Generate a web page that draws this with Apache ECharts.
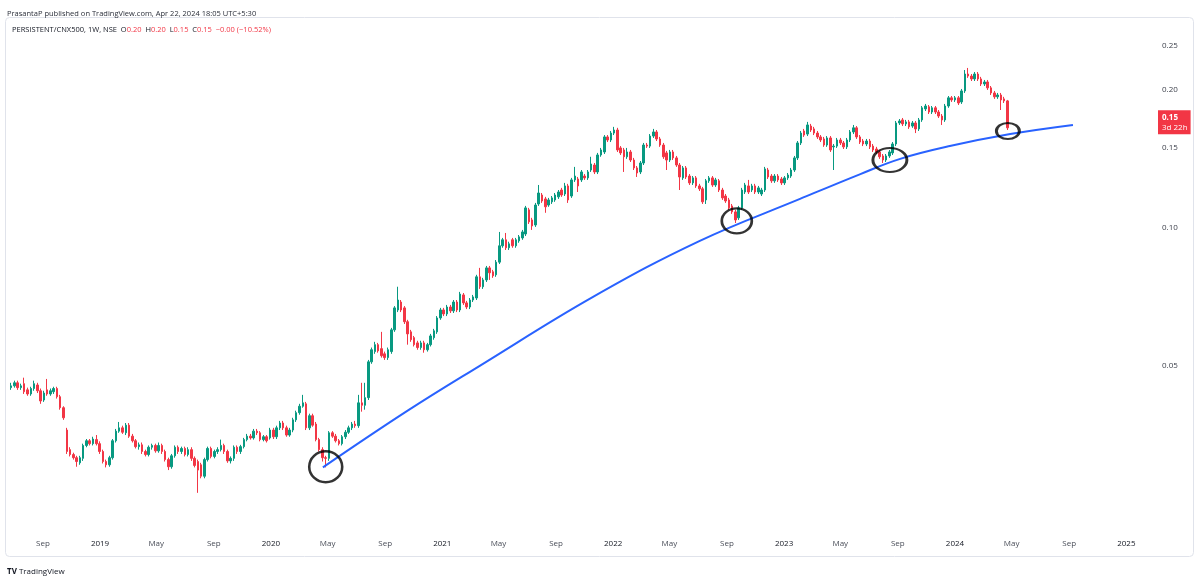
<!DOCTYPE html>
<html>
<head>
<meta charset="utf-8">
<title>PERSISTENT/CNX500 1W</title>
<script src="https://cdn.jsdelivr.net/npm/echarts@6.0.0/dist/echarts.min.js"></script>
<style>
  html, body { margin: 0; padding: 0; background: #fff; }
  #chart { width: 1200px; height: 577px; }
</style>
</head>
<body>
<div id="chart"></div>
<script>
// weekly candles, first week starts 2018-06-25, one row per week: [open, close, low, high]
const firstWeek = '2018-06-25';
const weekly = [
  // 2018
  [0.0448,0.0452,0.0443,0.0459],[0.0452,0.0459,0.0448,0.0464],[0.0459,0.0448,0.0443,0.0464],[0.0448,0.0452,0.0443,0.0457],
  [0.0457,0.0439,0.0434,0.0471],[0.0443,0.0434,0.0430,0.0448],[0.0434,0.0446,0.0430,0.0450],[0.0446,0.0457,0.0441,0.0464],
  [0.0454,0.0441,0.0436,0.0459],[0.0441,0.0419,0.0413,0.0446],[0.0421,0.0436,0.0417,0.0441],[0.0443,0.0434,0.0430,0.0468],
  [0.0434,0.0441,0.0430,0.0446],[0.0439,0.0446,0.0434,0.0450],[0.0446,0.0428,0.0424,0.0450],[0.0428,0.0405,0.0401,0.0432],
  [0.0405,0.0385,0.0381,0.0408],[0.0362,0.0325,0.0321,0.0366],[0.0328,0.0320,0.0317,0.0332],[0.0320,0.0315,0.0312,0.0323],
  [0.0315,0.0309,0.0301,0.0318],[0.0307,0.0315,0.0304,0.0318],[0.0314,0.0335,0.0310,0.0338],[0.0335,0.0343,0.0332,0.0346],
  [0.0343,0.0338,0.0335,0.0346],[0.0338,0.0346,0.0335,0.0350],[0.0345,0.0338,0.0335,0.0353],
  // 2019
  [0.0338,0.0325,0.0321,0.0342],[0.0325,0.0309,0.0306,0.0328],[0.0309,0.0304,0.0300,0.0312],[0.0304,0.0315,0.0301,0.0318],
  [0.0315,0.0343,0.0312,0.0346],[0.0343,0.0360,0.0340,0.0364],[0.0360,0.0366,0.0357,0.0377],[0.0366,0.0358,0.0355,0.0370],
  [0.0357,0.0371,0.0353,0.0375],[0.0371,0.0351,0.0348,0.0375],[0.0351,0.0343,0.0340,0.0355],[0.0343,0.0333,0.0330,0.0346],
  [0.0333,0.0336,0.0328,0.0340],[0.0336,0.0325,0.0321,0.0340],[0.0325,0.0320,0.0317,0.0328],[0.0320,0.0332,0.0317,0.0335],
  [0.0332,0.0335,0.0328,0.0338],[0.0335,0.0326,0.0323,0.0338],[0.0326,0.0335,0.0323,0.0340],[0.0335,0.0325,0.0321,0.0338],
  [0.0325,0.0312,0.0309,0.0328],[0.0312,0.0301,0.0296,0.0315],[0.0301,0.0318,0.0298,0.0321],[0.0318,0.0332,0.0315,0.0335],
  [0.0332,0.0325,0.0321,0.0335],[0.0325,0.0330,0.0321,0.0333],[0.0330,0.0320,0.0317,0.0333],[0.0320,0.0328,0.0317,0.0332],
  [0.0328,0.0314,0.0310,0.0332],[0.0314,0.0303,0.0300,0.0317],[0.0309,0.0296,0.0264,0.0312],[0.0304,0.0287,0.0284,0.0307],
  [0.0287,0.0312,0.0284,0.0315],[0.0312,0.0330,0.0309,0.0333],[0.0330,0.0317,0.0314,0.0333],[0.0317,0.0325,0.0314,0.0328],
  [0.0325,0.0328,0.0321,0.0332],[0.0328,0.0335,0.0325,0.0345],[0.0335,0.0325,0.0321,0.0338],[0.0325,0.0310,0.0307,0.0328],
  [0.0310,0.0314,0.0306,0.0317],[0.0314,0.0332,0.0310,0.0335],[0.0332,0.0325,0.0321,0.0335],[0.0325,0.0333,0.0321,0.0336],
  [0.0333,0.0345,0.0330,0.0348],[0.0345,0.0351,0.0342,0.0355],[0.0351,0.0348,0.0345,0.0355],[0.0348,0.0360,0.0345,0.0364],
  [0.0360,0.0357,0.0353,0.0364],[0.0357,0.0345,0.0342,0.0360],[0.0345,0.0350,0.0342,0.0353],[0.0350,0.0343,0.0340,0.0353],
  [0.0348,0.0362,0.0345,0.0366],
  // 2020
  [0.0362,0.0350,0.0346,0.0366],[0.0350,0.0366,0.0346,0.0370],[0.0366,0.0375,0.0362,0.0379],[0.0375,0.0366,0.0362,0.0379],
  [0.0366,0.0353,0.0350,0.0370],[0.0353,0.0362,0.0350,0.0366],[0.0362,0.0381,0.0358,0.0385],[0.0381,0.0395,0.0377,0.0399],
  [0.0395,0.0408,0.0391,0.0413],[0.0408,0.0415,0.0405,0.0432],[0.0413,0.0366,0.0362,0.0417],[0.0366,0.0389,0.0362,0.0393],
  [0.0389,0.0371,0.0368,0.0393],[0.0373,0.0345,0.0342,0.0377],[0.0345,0.0328,0.0325,0.0348],[0.0328,0.0315,0.0309,0.0332],
  [0.0315,0.0314,0.0300,0.0318],[0.0314,0.0357,0.0310,0.0360],[0.0357,0.0351,0.0348,0.0360],[0.0351,0.0343,0.0340,0.0355],
  [0.0343,0.0338,0.0335,0.0346],[0.0338,0.0350,0.0335,0.0353],[0.0350,0.0358,0.0346,0.0362],[0.0358,0.0366,0.0355,0.0370],
  [0.0366,0.0373,0.0362,0.0377],[0.0373,0.0370,0.0366,0.0379],[0.0370,0.0415,0.0366,0.0432],[0.0415,0.0410,0.0397,0.0459],
  [0.0410,0.0426,0.0401,0.0459],[0.0426,0.0510,0.0421,0.0515],[0.0510,0.0542,0.0505,0.0548],[0.0537,0.0556,0.0531,0.0564],
  [0.0556,0.0539,0.0534,0.0561],[0.0545,0.0526,0.0521,0.0593],[0.0531,0.0521,0.0515,0.0537],[0.0521,0.0542,0.0515,0.0548],
  [0.0537,0.0599,0.0531,0.0605],[0.0599,0.0669,0.0593,0.0675],[0.0662,0.0696,0.0655,0.0744],[0.0689,0.0662,0.0655,0.0696],
  [0.0669,0.0624,0.0617,0.0675],[0.0624,0.0587,0.0556,0.0630],[0.0593,0.0570,0.0564,0.0599],[0.0576,0.0556,0.0551,0.0581],
  [0.0561,0.0548,0.0542,0.0567],[0.0548,0.0561,0.0542,0.0567],[0.0561,0.0542,0.0534,0.0567],[0.0542,0.0556,0.0537,0.0561],
  [0.0556,0.0581,0.0551,0.0587],[0.0576,0.0596,0.0570,0.0602],[0.0593,0.0636,0.0587,0.0642],[0.0636,0.0662,0.0630,0.0669],
  // 2021
  [0.0662,0.0649,0.0642,0.0669],[0.0649,0.0672,0.0642,0.0679],[0.0672,0.0659,0.0652,0.0679],[0.0659,0.0689,0.0652,0.0696],
  [0.0689,0.0662,0.0655,0.0696],[0.0662,0.0717,0.0655,0.0725],[0.0714,0.0686,0.0679,0.0721],[0.0686,0.0672,0.0665,0.0693],
  [0.0672,0.0696,0.0665,0.0703],[0.0696,0.0707,0.0689,0.0714],[0.0703,0.0782,0.0696,0.0790],[0.0782,0.0744,0.0736,0.0818],
  [0.0744,0.0770,0.0736,0.0778],[0.0770,0.0818,0.0762,0.0826],[0.0818,0.0798,0.0770,0.0826],[0.0802,0.0786,0.0778,0.0810],
  [0.0790,0.0842,0.0782,0.0851],[0.0842,0.0914,0.0834,0.0980],[0.0914,0.0942,0.0905,0.0951],[0.0942,0.0905,0.0895,0.0975],
  [0.0905,0.0923,0.0895,0.0933],[0.0942,0.0914,0.0905,0.0951],[0.0914,0.0942,0.0905,0.0951],[0.0937,0.0956,0.0928,0.0965],
  [0.0951,0.0980,0.0942,0.0990],[0.0970,0.1106,0.0960,0.1117],[0.1095,0.1031,0.1020,0.1106],[0.1041,0.1010,0.0990,0.1052],
  [0.1015,0.1122,0.1005,0.1134],[0.1128,0.1192,0.1117,0.1241],[0.1180,0.1145,0.1134,0.1192],[0.1157,0.1112,0.1079,0.1169],
  [0.1122,0.1151,0.1112,0.1163],[0.1140,0.1163,0.1128,0.1174],[0.1151,0.1180,0.1140,0.1192],[0.1169,0.1198,0.1157,0.1210],
  [0.1210,0.1180,0.1169,0.1223],[0.1186,0.1235,0.1174,0.1254],[0.1235,0.1151,0.1134,0.1248],[0.1174,0.1273,0.1163,0.1286],
  [0.1273,0.1298,0.1260,0.1359],[0.1279,0.1235,0.1198,0.1292],[0.1273,0.1325,0.1260,0.1338],[0.1298,0.1286,0.1273,0.1311],
  [0.1286,0.1325,0.1273,0.1338],[0.1338,0.1379,0.1325,0.1430],[0.1372,0.1325,0.1311,0.1386],[0.1325,0.1443,0.1311,0.1458],
  [0.1443,0.1480,0.1430,0.1495],[0.1465,0.1580,0.1450,0.1595],[0.1580,0.1556,0.1540,0.1595],[0.1556,0.1611,0.1540,0.1628],
  // 2022
  [0.1611,0.1636,0.1595,0.1662],[0.1636,0.1480,0.1465,0.1654],[0.1495,0.1458,0.1443,0.1509],[0.1480,0.1430,0.1325,0.1495],
  [0.1430,0.1465,0.1415,0.1495],[0.1465,0.1407,0.1393,0.1480],[0.1407,0.1352,0.1338,0.1422],[0.1352,0.1318,0.1292,0.1365],
  [0.1325,0.1386,0.1311,0.1400],[0.1386,0.1517,0.1372,0.1533],[0.1517,0.1509,0.1495,0.1533],[0.1509,0.1587,0.1495,0.1603],
  [0.1587,0.1620,0.1572,0.1645],[0.1620,0.1564,0.1548,0.1636],[0.1564,0.1517,0.1503,0.1580],[0.1517,0.1430,0.1415,0.1533],
  [0.1458,0.1407,0.1338,0.1473],[0.1407,0.1465,0.1393,0.1480],[0.1465,0.1422,0.1407,0.1480],[0.1422,0.1372,0.1359,0.1436],
  [0.1372,0.1292,0.1210,0.1386],[0.1286,0.1352,0.1273,0.1365],[0.1352,0.1292,0.1279,0.1365],[0.1298,0.1254,0.1241,0.1311],
  [0.1254,0.1286,0.1241,0.1298],[0.1286,0.1235,0.1223,0.1298],[0.1235,0.1217,0.1204,0.1248],[0.1217,0.1140,0.1128,0.1229],
  [0.1151,0.1267,0.1128,0.1279],[0.1267,0.1286,0.1254,0.1298],[0.1286,0.1241,0.1229,0.1298],[0.1241,0.1273,0.1229,0.1286],
  [0.1267,0.1210,0.1198,0.1279],[0.1210,0.1163,0.1151,0.1223],[0.1174,0.1145,0.1134,0.1186],[0.1151,0.1106,0.1095,0.1163],
  [0.1117,0.1084,0.1073,0.1128],[0.1084,0.1041,0.1025,0.1095],[0.1052,0.1106,0.1041,0.1117],[0.1106,0.1210,0.1095,0.1223],
  [0.1198,0.1241,0.1186,0.1254],[0.1235,0.1198,0.1186,0.1273],[0.1210,0.1235,0.1198,0.1248],[0.1235,0.1198,0.1186,0.1248],
  [0.1198,0.1223,0.1186,0.1235],[0.1186,0.1210,0.1174,0.1223],[0.1210,0.1345,0.1198,0.1359],[0.1338,0.1292,0.1279,0.1352],
  [0.1298,0.1267,0.1254,0.1311],[0.1267,0.1298,0.1254,0.1311],[0.1298,0.1273,0.1260,0.1311],[0.1279,0.1254,0.1241,0.1292],
  // 2023
  [0.1254,0.1286,0.1241,0.1298],[0.1286,0.1305,0.1273,0.1318],[0.1298,0.1338,0.1286,0.1352],[0.1338,0.1422,0.1325,0.1436],
  [0.1422,0.1533,0.1407,0.1548],[0.1533,0.1611,0.1517,0.1628],[0.1628,0.1595,0.1580,0.1645],[0.1603,0.1678,0.1587,0.1704],
  [0.1669,0.1636,0.1620,0.1687],[0.1645,0.1611,0.1595,0.1662],[0.1611,0.1580,0.1564,0.1628],[0.1580,0.1556,0.1540,0.1595],
  [0.1564,0.1517,0.1503,0.1580],[0.1517,0.1572,0.1503,0.1587],[0.1572,0.1480,0.1465,0.1587],[0.1503,0.1509,0.1338,0.1525],
  [0.1509,0.1556,0.1495,0.1572],[0.1556,0.1533,0.1517,0.1572],[0.1533,0.1503,0.1487,0.1548],[0.1503,0.1556,0.1487,0.1572],
  [0.1556,0.1620,0.1540,0.1636],[0.1620,0.1654,0.1603,0.1678],[0.1654,0.1580,0.1564,0.1669],[0.1580,0.1540,0.1525,0.1595],
  [0.1548,0.1525,0.1509,0.1564],[0.1525,0.1548,0.1509,0.1564],[0.1548,0.1503,0.1487,0.1564],[0.1509,0.1480,0.1465,0.1525],
  [0.1487,0.1465,0.1450,0.1503],[0.1465,0.1430,0.1415,0.1480],[0.1436,0.1407,0.1386,0.1450],[0.1407,0.1436,0.1393,0.1450],
  [0.1436,0.1465,0.1422,0.1480],[0.1458,0.1525,0.1443,0.1540],[0.1525,0.1695,0.1509,0.1712],[0.1695,0.1712,0.1678,0.1729],
  [0.1721,0.1687,0.1669,0.1738],[0.1687,0.1704,0.1669,0.1721],[0.1704,0.1662,0.1645,0.1721],[0.1669,0.1695,0.1654,0.1712],
  [0.1695,0.1645,0.1611,0.1712],[0.1645,0.1721,0.1628,0.1738],[0.1721,0.1829,0.1704,0.1846],[0.1819,0.1846,0.1800,0.1865],
  [0.1838,0.1791,0.1773,0.1855],[0.1791,0.1829,0.1773,0.1846],[0.1829,0.1791,0.1773,0.1846],[0.1791,0.1755,0.1738,0.1809],
  [0.1755,0.1721,0.1678,0.1773],[0.1721,0.1846,0.1704,0.1865],[0.1846,0.1923,0.1829,0.1941],[0.1923,0.1903,0.1884,0.1941],
  // 2024
  [0.1903,0.1923,0.1884,0.1941],[0.1923,0.1874,0.1855,0.1941],[0.1884,0.1991,0.1865,0.2011],[0.1991,0.2168,0.1971,0.2212],
  [0.2168,0.2146,0.2126,0.2235],[0.2146,0.2115,0.2093,0.2168],[0.2115,0.2168,0.2093,0.2190],[0.2168,0.2115,0.2093,0.2190],
  [0.2115,0.2062,0.2041,0.2137],[0.2062,0.2083,0.2041,0.2104],[0.2083,0.2022,0.2001,0.2104],[0.2022,0.1971,0.1951,0.2041],
  [0.1971,0.1933,0.1913,0.1991],[0.1933,0.1951,0.1913,0.1971],[0.1951,0.1903,0.1809,0.1971],[0.1913,0.1894,0.1874,0.1933],
  [0.1894,0.1654,0.1636,0.1903]
];

// hand drawn trend curve
const curveDates = ['2020-04-21','2020-10-19','2021-03-22','2021-11-19','2022-07-05','2023-02-04','2023-06-13','2023-09-06','2023-12-21','2024-04-28','2024-09-09'];
const curveValues = [0.0300,0.0399,0.0500,0.0707,0.0937,0.1157,0.1311,0.1415,0.1509,0.1603,0.1678];

// hand drawn rings
const ringDates = ['2020-04-27','2022-09-22','2023-08-15','2024-04-23'];
const ringValues = [0.0301,0.1036,0.1407,0.1628];
const ringSizes = [[33, 31], [30, 25], [34, 24], [23, 16]];

// axis labels
const timeTicks = ['2018-09-01','2019-01-01','2019-05-01','2019-09-01','2020-01-01','2020-05-01','2020-09-01',
  '2021-01-01','2021-05-01','2021-09-01','2022-01-01','2022-05-01','2022-09-01','2023-01-01','2023-05-01',
  '2023-09-01','2024-01-01','2024-05-01','2024-09-01','2025-01-01'];
const priceTicks = [0.05, 0.10, 0.15, 0.20, 0.25];
const lastPrice = 0.1654;
const monthNames = ['Jan','Feb','Mar','Apr','May','Jun','Jul','Aug','Sep','Oct','Nov','Dec'];

const up = '#089981';
const down = '#f23645';
const font = 'Open Sans';

// 'YYYY-MM-DD' -> local midnight ms, optional week offset
function toMs(s, weeks) {
  const p = s.split('-');
  return new Date(+p[0], +p[1] - 1, +p[2] + 7 * (weeks || 0)).getTime();
}

const candles = weekly.map(function (row, i) {
  return [toMs(firstWeek, i), row[0], row[1], row[2], row[3]];
});

const chart = echarts.init(document.getElementById('chart'));
chart.setOption({
  animation: false,
  backgroundColor: '#fff',
  textStyle: { fontFamily: font },
  title: [
    {
      text: 'PrasantaP published on TradingView.com, Apr 22, 2024 18:05 UTC+5:30',
      left: 2, top: 5,
      textStyle: { fontSize: 7.5, fontWeight: 'normal', color: '#2a2e39', fontFamily: font }
    },
    {
      text: '{n|PERSISTENT/CNX500, 1W, NSE}  {k|O}{v|0.20}  {k|H}{v|0.20}  {k|L}{v|0.15}  {k|C}{v|0.15}  {v|\u22120.00 (\u221210.52%)}',
      left: 7, top: 21,
      textStyle: {
        fontSize: 7.5, fontWeight: 'normal', fontFamily: font,
        rich: {
          n: { fontSize: 7.5, color: '#131722', fontFamily: font },
          k: { fontSize: 7.5, color: '#131722', fontFamily: font },
          v: { fontSize: 7.5, color: down, fontFamily: font }
        }
      }
    },
    {
      text: '{l|TV} {t|TradingView}',
      left: 2, top: 563,
      textStyle: {
        fontSize: 8, fontWeight: 'normal', fontFamily: font,
        rich: {
          l: { fontSize: 8, fontWeight: 'bold', color: '#131722', fontFamily: font },
          t: { fontSize: 8, fontWeight: 'normal', color: '#131722', fontFamily: font }
        }
      }
    }
  ],
  graphic: [
    {
      type: 'rect', silent: true, z: -1,
      shape: { x: 5.5, y: 17.5, width: 1188, height: 539, r: 4 },
      style: { fill: 'none', stroke: '#e0e3eb', lineWidth: 1 }
    }
  ],
  grid: { left: 5, right: 54, top: 18, bottom: 47 },
  xAxis: {
    type: 'value',
    min: toMs('2018-06-12'),
    max: toMs('2025-02-12'),
    axisLine: { show: false },
    axisTick: { show: false },
    splitLine: { show: false },
    axisLabel: {
      customValues: timeTicks.map(function (s) { return toMs(s); }),
      margin: 10,
      formatter: function (val) {
        const d = new Date(val);
        return d.getMonth() === 0 ? '{y|' + d.getFullYear() + '}' : '{m|' + monthNames[d.getMonth()] + '}';
      },
      rich: {
        y: { fontSize: 8, color: '#131722', fontFamily: font },
        m: { fontSize: 8, color: '#4a4e59', fontFamily: font }
      }
    }
  },
  yAxis: {
    type: 'log',
    logBase: 10,
    position: 'right',
    min: 0.0219,
    max: 0.2873,
    axisLine: { show: false },
    axisTick: { show: false },
    splitLine: { show: false },
    axisLabel: {
      customValues: priceTicks,
      margin: 16,
      fontSize: 8,
      color: '#3b3f4a',
      fontFamily: font,
      formatter: function (v) { return Number(v).toFixed(2); }
    }
  },
  series: [
    {
      type: 'candlestick',
      data: candles,
      encode: { x: 0, y: [1, 2, 3, 4] },
      barWidth: 2,
      itemStyle: {
        color: up, color0: down,
        borderColor: up, borderColor0: down,
        borderWidth: 1
      },
      markLine: {
        silent: true,
        symbol: 'none',
        lineStyle: { color: 'rgba(0,0,0,0)', width: 1, type: 'solid' },
        data: [{ yAxis: lastPrice }],
        label: {
          show: true,
          position: 'end',
          distance: 12,
          color: '#fff',
          formatter: '{p|0.15}\n{c|3d 22h}',
          backgroundColor: down,
          padding: [2, 3, 2, 4],
          rich: {
            p: { fontSize: 8, fontWeight: 'bold', color: '#fff', lineHeight: 10, fontFamily: font },
            c: { fontSize: 8, color: '#fff', lineHeight: 10, fontFamily: font }
          }
        }
      }
    },
    {
      type: 'line',
      data: curveDates.map(function (d, i) { return [toMs(d), curveValues[i]]; }),
      smooth: 0.4,
      showSymbol: false,
      lineStyle: { color: '#2962ff', width: 2 },
      z: 3
    },
    {
      type: 'scatter',
      data: ringDates.map(function (d, i) { return [toMs(d), ringValues[i]]; }),
      symbol: 'circle',
      symbolSize: function (v, p) { return ringSizes[p.dataIndex]; },
      itemStyle: { color: 'rgba(0,0,0,0)', borderColor: '#000', borderWidth: 2.5 },
      z: 4
    }
  ]
});
</script>
</body>
</html>
